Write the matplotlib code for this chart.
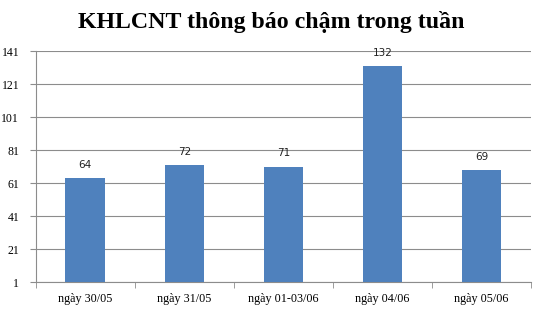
import matplotlib
matplotlib.use("Agg")
import matplotlib.pyplot as plt
import numpy as np

categories = ["ngày 30/05", "ngày 31/05", "ngày 01-03/06", "ngày 04/06", "ngày 05/06"]
values = [64, 72, 71, 132, 69]
yticks = [1, 21, 41, 61, 81, 101, 121, 141]
title = "KHLCNT thông báo chậm trong tuần"


def main():
    fig = plt.figure(figsize=(5.42, 3.11), dpi=100)
    ax = fig.add_axes([0.066, 0.093, 0.914, 0.743])
    x = np.arange(len(categories))
    bars = ax.bar(x, values, width=0.4, color="#4f81bd", bottom=0, zorder=3)
    for b, v in zip(bars, values):
        ax.text(b.get_x() + b.get_width() / 2, v + 5, str(v), ha="center", va="bottom",
                fontsize=7.5, family="DejaVu Sans", color="#222222")

    ax.set_xlim(-0.5, len(categories) - 0.5)
    ax.set_ylim(1, 141)
    ax.set_yticks(yticks)
    ax.set_yticklabels([str(t) for t in yticks], family="Liberation Serif", fontsize=8.5)
    ax.yaxis.grid(True, color="#8c8c8c", linewidth=0.8, zorder=0)

    ax.set_xticks(x)
    ax.set_xticklabels(categories, family="Liberation Serif", fontsize=8.7)
    ax.set_xticks(np.arange(-0.5, len(categories)), minor=True)
    ax.tick_params(axis="x", which="major", length=0, pad=8)
    ax.tick_params(axis="x", which="minor", length=4, color="#8c8c8c")
    ax.tick_params(axis="y", length=4, color="#8c8c8c", pad=8)

    for s in ["top", "right"]:
        ax.spines[s].set_visible(False)
    for s in ["left", "bottom"]:
        ax.spines[s].set_color("#8c8c8c")

    fig.text(0.5, 0.93, title, ha="center", va="center", fontsize=17.2,
             fontweight="bold", family="Liberation Serif")
    fig.savefig("out.png", dpi=100)


if __name__ == '__main__':
    main()
